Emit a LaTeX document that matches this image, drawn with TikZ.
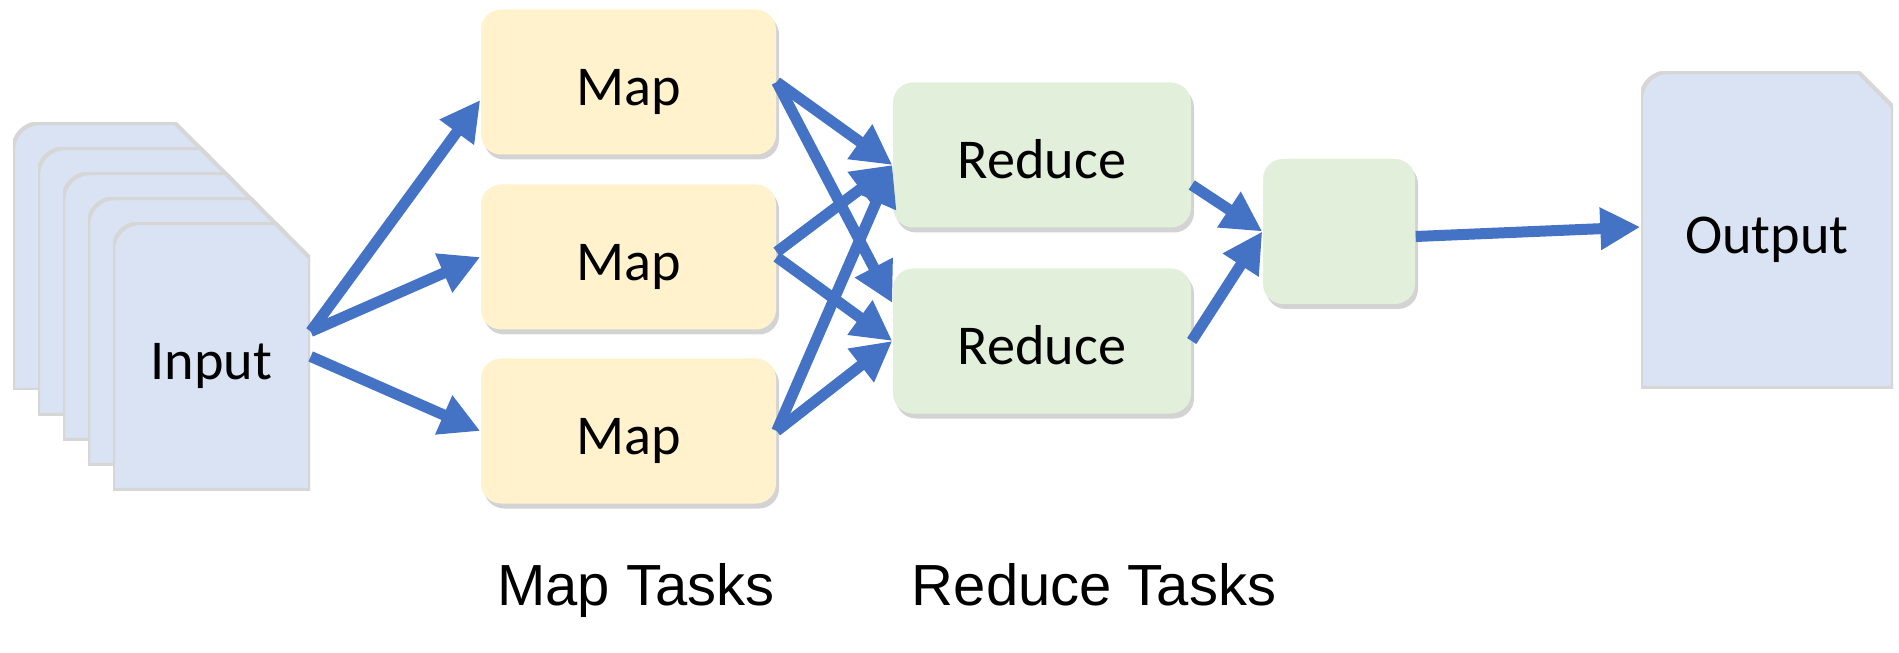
\documentclass[tikz,border=0pt]{standalone}
\usepackage{fontspec}
\setmainfont{Carlito}
\newfontfamily\labelfont{Liberation Sans}
\usepackage{tikz}
\newcommand{\boxwidth}{2.95cm}
\newcommand{\boxheight}{1.45cm}
\newcommand{\docnotch}{0.35cm}
\newcommand{\docradius}{0.27cm}
\definecolor{mapFill}{RGB}{255,242,204}
\definecolor{redFill}{RGB}{226,239,218}
\definecolor{docFill}{RGB}{218,227,243}
\definecolor{arrowBlue}{RGB}{68,114,196}
\usetikzlibrary{arrows.meta,calc,positioning,shadows}
\tikzset{
  >={Triangle[length=4mm,width=4mm]},
  font=\fontsize{16}{19}\selectfont,
  task/.style={shape=rectangle,rounded corners=2mm,minimum width=\boxwidth,minimum height=\boxheight,inner sep=0,text height=15pt,text depth=1.9pt,drop shadow={shadow xshift=0.3mm,shadow yshift=-0.5mm,opacity=0.35}},
  mapbox/.style={task,fill=mapFill},
  redbox/.style={task,fill=redFill,minimum width=2.98cm},
  doc/.style={shape=rectangle,inner sep=0,minimum width=1.97cm,minimum height=2.67cm,text height=15pt,text depth=1.9pt,
    path picture={\filldraw[docFill,draw=black!16,line width=1.2pt]
      ([yshift=-\docradius]path picture bounding box.north west)
      arc[start angle=180,end angle=90,radius=\docradius]
      -- ([xshift=-\docnotch]path picture bounding box.north east)
      -- ([yshift=-\docnotch]path picture bounding box.north east)
      -- (path picture bounding box.south east)
      -- (path picture bounding box.south west) -- cycle;}},
  line/.style={draw=arrowBlue,->,line width=1.1mm},
  tasklabel/.style={font=\labelfont\fontsize{16.5}{20}\selectfont,anchor=base},
}
\begin{document}
\begin{tikzpicture}
  \useasboundingbox (0,0) rectangle (18.99,6.52);
  % input stack
  \foreach \k in {0,...,3}
    \node (sheet\k) [doc] at (1.115+0.25*\k,3.955-0.25*\k) {};
  \node (input) [doc] at (2.115,2.955) {Input};
  % tasks
  \node (m1) [mapbox] at (6.285,5.70) {Map};
  \node (m2) [mapbox] at (6.285,3.95) {Map};
  \node (m3) [mapbox] at (6.285,2.21) {Map};
  \node (r1) [redbox] at (10.42,4.97) {Reduce};
  \node (r2) [redbox] at (10.42,3.11) {Reduce};
  \node (s) [task,fill=redFill,minimum width=1.52cm] at (13.39,4.205) {};
  \node (out) [doc,minimum width=2.52cm,minimum height=3.16cm] at (17.67,4.22) {Output};
  \node (maptasks) [tasklabel] at (6.36,0.47) {Map Tasks};
  \node (redtasks) [tasklabel] at (10.94,0.47) {Reduce Tasks};
  % arrows
  \path [line] ([yshift=0.25cm]input.east) -- ([yshift=-0.18cm]m1.west);
  \path [line] ([yshift=0.25cm]input.east) -- (m2.west);
  \path [line] (input.east) -- (m3.west);
  \path [line] (m1.east) -- ([yshift=-0.1cm]r1.west);
  \path [line] (m1.east) -- ([yshift=0.38cm]r2.west);
  \path [line] ([yshift=0.05cm]m2.east) -- ([yshift=-0.1cm]r1.west);
  \path [line] (m2.east) -- (r2.west);
  \path [line] (m3.east) -- ([yshift=-0.1cm]r1.west);
  \path [line] (m3.east) -- (r2.west);
  \path [line] ([yshift=-0.3cm]r1.east) -- (s.west);
  \path [line] (r2.east) -- (s.west);
  \path [line] ([yshift=-0.05cm]s.east) -- ([yshift=0.03cm]out.west);
\end{tikzpicture}
\end{document}
